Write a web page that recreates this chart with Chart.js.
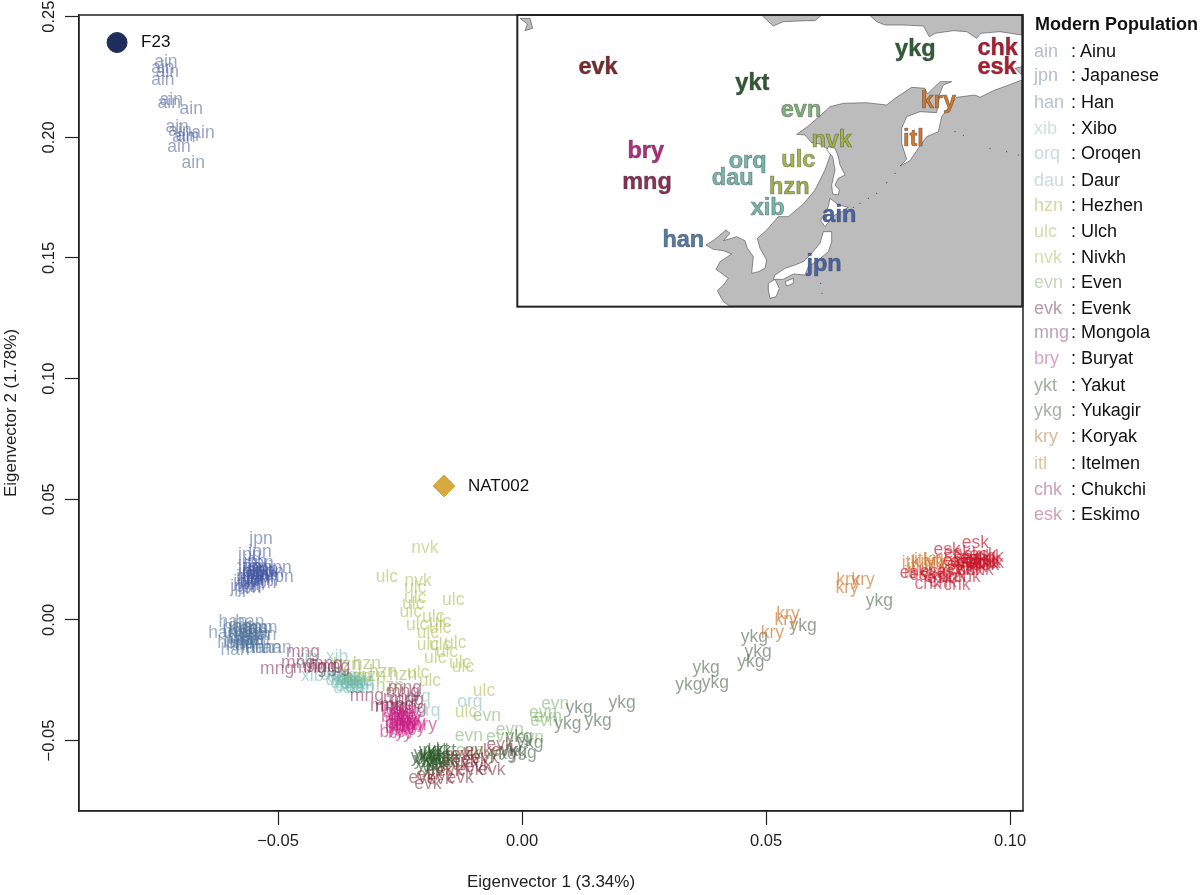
<!DOCTYPE html>
<html>
<head>
<meta charset="utf-8">
<title>Eigenvector plot</title>
<script src="https://cdn.jsdelivr.net/npm/chart.js@4"></script>
<style>
  html, body { margin: 0; padding: 0; background: #fff; }
  #wrap { position: relative; width: 1200px; height: 895px; overflow: hidden; }
  canvas { position: absolute; left: 0; top: 0; }
  .row { position: absolute; font: 18px "Liberation Sans", Arial, sans-serif; line-height: 20px; color: #111; white-space: nowrap; }
  .row span { position: absolute; top: 0; }
  .head { font-weight: bold; left: 1035px; top: 14px; }
</style>
</head>
<body>
<div id="wrap"><canvas id="pca" width="1200" height="895"></canvas></div>
<script>
// ---- tick labels
const xTicks = [-0.05, 0, 0.05, 0.1];
const xTickLabels = ['\u22120.05', '0.00', '0.05', '0.10'];
const yTicks = [-0.05, 0, 0.05, 0.1, 0.15, 0.2, 0.25];
const yTickLabels = ['\u22120.05', '0.00', '0.05', '0.10', '0.15', '0.20', '0.25'];

// ---- populations, legend order
const popCodes = ['ain','jpn','han','xib','orq','dau','hzn','ulc','nvk','evn','evk','mng','bry','ykt','ykg','kry','itl','chk','esk'];
const popNames = ['Ainu','Japanese','Han','Xibo','Oroqen','Daur','Hezhen','Ulch','Nivkh','Even','Evenk','Mongola','Buryat','Yakut','Yukagir','Koryak','Itelmen','Chukchi','Eskimo'];

// ---- eigenvector 1 / eigenvector 2
const ain = [[-0.0730,0.2312],[-0.0736,0.2288],[-0.0727,0.2271],[-0.0736,0.2238],[-0.0719,0.2155],[-0.0723,0.2143],[-0.0678,0.2118],[-0.0707,0.2043],[-0.0701,0.2027],[-0.0654,0.2018],[-0.0693,0.2002],[-0.0686,0.2006],[-0.0703,0.1960],[-0.0674,0.1894]];
const jpn = [[-0.0535,0.0335],[-0.0537,0.0282],[-0.0558,0.0269],[-0.0547,0.0240],[-0.0533,0.0236],[-0.0558,0.0219],[-0.0537,0.0215],[-0.0496,0.0215],[-0.0558,0.0199],[-0.0523,0.0207],[-0.0492,0.0178],[-0.0543,0.0186],[-0.0562,0.0178],[-0.0521,0.0178],[-0.0574,0.0137],[-0.0551,0.0145],[-0.0527,0.0153],[-0.0558,0.0132],[-0.0541,0.0166],[-0.0512,0.0199],[-0.0568,0.0157],[-0.0533,0.0190],[-0.0549,0.0207],[-0.0550,0.0190],[-0.0540,0.0175],[-0.0530,0.0200],[-0.0545,0.0220],[-0.0525,0.0185],[-0.0555,0.0165]];
const han = [[-0.0592,-0.0008],[-0.0558,-0.0008],[-0.0541,-0.0033],[-0.0613,-0.0054],[-0.0531,-0.0033],[-0.0584,-0.0050],[-0.0568,-0.0070],[-0.0582,-0.0083],[-0.0547,-0.0083],[-0.0588,-0.0124],[-0.0558,-0.0116],[-0.0537,-0.0116],[-0.0502,-0.0116],[-0.0584,-0.0029],[-0.0564,-0.0029],[-0.0572,-0.0050],[-0.0551,-0.0054],[-0.0533,-0.0062],[-0.0578,-0.0104],[-0.0595,-0.0095],[-0.0558,-0.0095],[-0.0523,-0.0116],[-0.0570,-0.0040],[-0.0560,-0.0060],[-0.0550,-0.0040],[-0.0575,-0.0075],[-0.0560,-0.0085],[-0.0545,-0.0065],[-0.0570,-0.0100]];
const xib = [[-0.0379,-0.0153],[-0.0441,-0.0157],[-0.0430,-0.0232],[-0.0394,-0.0215],[-0.0363,-0.0248],[-0.0342,-0.0261]];
const orq = [[-0.0107,-0.0339],[-0.0193,-0.0377],[-0.0213,-0.0319],[-0.0349,-0.0240],[-0.0328,-0.0253],[-0.0363,-0.0232]];
const dau = [[-0.0373,-0.0248],[-0.0363,-0.0261],[-0.0353,-0.0273],[-0.0342,-0.0265],[-0.0369,-0.0236],[-0.0349,-0.0248],[-0.0357,-0.0282],[-0.0332,-0.0282],[-0.0383,-0.0228],[-0.0336,-0.0253]];
const hzn = [[-0.0318,-0.0182],[-0.0359,-0.0186],[-0.0244,-0.0228],[-0.0285,-0.0215],[-0.0271,-0.0273],[-0.0338,-0.0236],[-0.0308,-0.0232]];
const ulc = [[-0.0277,0.0178],[-0.0219,0.0132],[-0.0219,0.0091],[-0.0223,0.0066],[-0.0141,0.0083],[-0.0228,0.0033],[-0.0182,0.0012],[-0.0215,-0.0021],[-0.0168,-0.0008],[-0.0193,-0.0054],[-0.0168,-0.0033],[-0.0193,-0.0104],[-0.0168,-0.0104],[-0.0137,-0.0095],[-0.0154,-0.0132],[-0.0178,-0.0157],[-0.0127,-0.0178],[-0.0121,-0.0195],[-0.0213,-0.0219],[-0.0189,-0.0253],[-0.0078,-0.0294],[-0.0115,-0.0381]];
const nvk = [[-0.0199,0.0298],[-0.0213,0.0161]];
const evn = [[0.0068,-0.0348],[0.0043,-0.0385],[0.0045,-0.0418],[0.0053,-0.0402],[-0.0072,-0.0397],[-0.0109,-0.0480],[-0.0025,-0.0459],[-0.0045,-0.0484],[0.0016,-0.0489],[-0.0070,-0.0555],[-0.0107,-0.0546]];
const evk = [[-0.0158,-0.0580],[-0.0137,-0.0600],[-0.0117,-0.0588],[-0.0168,-0.0621],[-0.0148,-0.0629],[-0.0107,-0.0621],[-0.0189,-0.0642],[-0.0131,-0.0559],[-0.0090,-0.0609],[-0.0117,-0.0559],[-0.0168,-0.0662],[-0.0193,-0.0679],[-0.0205,-0.0654],[-0.0127,-0.0654],[-0.0062,-0.0621],[-0.0090,-0.0546],[-0.0045,-0.0518],[-0.0035,-0.0546],[-0.0096,-0.0580],[-0.0076,-0.0571]];
const mng = [[-0.0449,-0.0132],[-0.0502,-0.0203],[-0.0459,-0.0178],[-0.0435,-0.0199],[-0.0414,-0.0195],[-0.0387,-0.0195],[-0.0402,-0.0182],[-0.0318,-0.0315],[-0.0244,-0.0298],[-0.0236,-0.0331],[-0.0277,-0.0356],[-0.0230,-0.0364],[-0.0256,-0.0352],[-0.0250,-0.0323],[-0.0267,-0.0360],[-0.0240,-0.0282]];
const bry = [[-0.0264,-0.0402],[-0.0250,-0.0393],[-0.0234,-0.0414],[-0.0256,-0.0426],[-0.0240,-0.0435],[-0.0223,-0.0426],[-0.0199,-0.0435],[-0.0267,-0.0464],[-0.0244,-0.0455],[-0.0223,-0.0447],[-0.0246,-0.0414],[-0.0234,-0.0385],[-0.0256,-0.0447],[-0.0250,-0.0468],[-0.0230,-0.0402],[-0.0242,-0.0373],[-0.0260,-0.0381],[-0.0245,-0.0400],[-0.0250,-0.0430],[-0.0240,-0.0420],[-0.0235,-0.0440],[-0.0248,-0.0442]];
const ykt = [[-0.0189,-0.0546],[-0.0158,-0.0546],[-0.0199,-0.0580],[-0.0178,-0.0571],[-0.0193,-0.0600],[-0.0168,-0.0588],[-0.0205,-0.0567],[-0.0152,-0.0580],[-0.0182,-0.0613],[-0.0172,-0.0538],[-0.0199,-0.0555],[-0.0185,-0.0575],[-0.0175,-0.0590],[-0.0190,-0.0560],[-0.0170,-0.0565]];
const ykg = [[0.0205,-0.0344],[0.0117,-0.0364],[0.0094,-0.0431],[0.0156,-0.0418],[-0.0006,-0.0484],[0.0016,-0.0509],[-0.0039,-0.0555],[0.0002,-0.0551],[-0.0018,-0.0546],[0.0377,-0.0199],[0.0342,-0.0269],[0.0396,-0.0261],[0.0476,-0.0070],[0.0484,-0.0132],[0.0469,-0.0174],[0.0576,-0.0025],[0.0732,0.0079]];
const kry = [[0.0545,0.0025],[0.0541,0.0],[0.0513,-0.0054],[0.0668,0.0166],[0.0699,0.0166],[0.0666,0.0132],[0.0822,0.0240],[0.0871,0.0236],[0.0883,0.0215],[0.0847,0.0248],[0.0908,0.0240]];
const itl = [[0.0791,0.0236],[0.0802,0.0219],[0.0816,0.0248],[0.0836,0.0228],[0.0851,0.0240],[0.0795,0.0195],[0.0830,0.0207]];
const chk = [[0.0832,0.0149],[0.0891,0.0145],[0.0863,0.0157],[0.0912,0.0178],[0.0953,0.0236],[0.0918,0.0207],[0.0883,0.0178],[0.0959,0.0261],[0.0939,0.0207],[0.0851,0.0178],[0.0925,0.0220],[0.0945,0.0240],[0.0900,0.0205],[0.0960,0.0235]];
const esk = [[0.0929,0.0319],[0.0871,0.0290],[0.0892,0.0277],[0.0802,0.0195],[0.0843,0.0199],[0.0912,0.0269],[0.0933,0.0257],[0.0898,0.0228],[0.0945,0.0269],[0.0877,0.0199],[0.0857,0.0174],[0.0918,0.0236],[0.0953,0.0248],[0.0822,0.0186],[0.0925,0.0250],[0.0940,0.0230],[0.0905,0.0240],[0.0950,0.0225],[0.0890,0.0245]];
const popValues = [ain, jpn, han, xib, orq, dau, hzn, ulc, nvk, evn, evk, mng, bry, ykt, ykg, kry, itl, chk, esk];

// ---- the two ancient samples
const f23 = [[-0.0830, 0.2393]];
const nat002 = [[-0.0160, 0.0555]];

// ---- inset map, in map units (hidden mapX / mapY scales)
const insetCodes = ['evk','ykt','ykg','chk','esk','evn','nvk','kry','itl','bry','orq','ulc','dau','hzn','mng','xib','ain','han','jpn'];
const insetX = [264,727,1216,1463,1461,873,965,1285,1210,407,713,865,668,838,411,773,988,520,942];
const insetY = [204,250,150,145,203,333,422,305,420,455,485,482,535,562,548,625,648,723,793];
const seaOutline = [[660,918],[640,905],[622,872],[640,855],[655,835],[618,808],[630,785],[665,762],[640,752],[610,748],[588,735],[612,720],[648,690],[660,700],[640,722],[680,710],[705,722],[712,745],[730,770],[725,820],[745,815],[765,805],[770,780],[750,745],[742,715],[770,690],[805,650],[835,650],[880,612],[915,570],[945,510],[962,462],[950,445],[930,432],[905,428],[885,405],[860,403],[890,382],[925,352],[960,320],[1000,310],[1070,308],[1130,315],[1155,295],[1205,262],[1245,265],[1252,282],[1290,245],[1325,245],[1300,255],[1288,285],[1280,338],[1230,335],[1190,350],[1175,385],[1175,430],[1190,478],[1170,498],[1200,482],[1225,445],[1250,410],[1285,395],[1295,350],[1340,292],[1395,285],[1410,292],[1450,272],[1510,250],[1535,240],[1535,918]];
const arcticWest = [[755,45],[770,60],[790,78],[820,65],[890,62],[915,62],[935,45]];
const arcticEast = [[1078,45],[1100,65],[1125,75],[1180,75],[1240,78],[1258,110],[1275,100],[1330,92],[1370,95],[1400,115],[1412,100],[1470,95],[1535,105],[1535,45]];
const taimyrBlob = [[30,55],[60,55],[68,85],[45,92],[52,72]];
const beringBit = [[1515,205],[1535,200],[1535,225]];
const sakhalin = [[955,440],[975,445],[985,470],[990,495],[1005,525],[985,535],[975,555],[988,570],[985,585],[968,582],[965,555],[975,510],[968,470],[950,450]];
const hokkaido = [[960,595],[985,615],[1015,622],[995,635],[975,645],[960,660],[945,680],[932,662],[945,640],[955,620]];
const honshu = [[940,695],[965,695],[965,725],[955,755],[925,780],[895,800],[885,825],[850,822],[820,838],[790,838],[795,825],[825,805],[855,795],[880,785],[905,760],[930,730]];
const shikoku = [[825,845],[850,835],[850,850],[830,858]];
const kyushu = [[775,850],[795,838],[808,865],[798,890],[780,895],[775,870]];
const kurilDots = [[1155,520],[1130,548],[1100,580],[1075,595],[1050,610],[1030,622],[1335,395],[1360,406],[1440,445],[1490,455],[1525,465],[932,850],[936,880]];

// ---- styles
const popColors = {
  ain:'rgba(70,90,150,.55)', jpn:'rgba(65,85,160,.55)', han:'rgba(80,115,155,.55)', xib:'rgba(110,185,170,.55)',
  orq:'rgba(120,185,175,.55)', dau:'rgba(110,185,175,.55)', hzn:'rgba(150,175,70,.55)', ulc:'rgba(165,185,70,.55)',
  nvk:'rgba(170,190,80,.55)', evn:'rgba(120,175,100,.55)', evk:'rgba(125,40,50,.55)', mng:'rgba(130,40,80,.55)',
  bry:'rgba(200,30,130,.6)', ykt:'rgba(45,90,45,.65)', ykg:'rgba(60,85,60,.55)', kry:'rgba(205,115,45,.65)',
  itl:'rgba(205,120,50,.65)', chk:'rgba(190,30,55,.6)', esk:'rgba(200,20,40,.65)'
};
const insetColors = {
  evk:'#7a2a2e', ykt:'#2f5a2f', ykg:'#2f6035', chk:'#b5192e', esk:'#b5192e', evn:'#7fb27a', nvk:'#a3b545', kry:'#d0762d', itl:'#d0762d',
  bry:'#b52a7e', orq:'#76b7ad', ulc:'#a5b84a', dau:'#76b7ad', hzn:'#a0b04a', mng:'#8c2e57', xib:'#76b7ad', ain:'#4a63a8', han:'#557ba5', jpn:'#4a63a8'
};
const legendTextColors = {
  ain:'#b4bccd', jpn:'#b4bccd', han:'#b8c3cf', xib:'#cfe1de', orq:'#c9dcd9', dau:'#c9dcd9', hzn:'#d2d8a8', ulc:'#d5dcae', nvk:'#d5dcae',
  evn:'#c5d6bd', evk:'#b89aa3', mng:'#c0a0b4', bry:'#d9a2c9', ykt:'#a0aea0', ykg:'#a6b4a6', kry:'#d9bc9c', itl:'#dcc6a4', chk:'#d09fb0', esk:'#d4a0b2'
};
const legendRowY = [41,65,92,118,143,170,195,221,247,272,298,322,348,375,400,426,453,479,504];
const FONT = '"Liberation Sans", Arial, sans-serif';

const toXY = rows => rows.map(r => ({ x: r[0], y: r[1] }));

const datasets = popCodes.map((code, i) => ({
  label: code,
  data: toXY(popValues[i]),
  pointRadius: 0,
  textLabel: code,
  textColor: popColors[code]
}));
datasets.push({
  label: 'inset',
  xAxisID: 'mapX',
  yAxisID: 'mapY',
  data: insetX.map((x, i) => ({ x: x, y: insetY[i] })),
  pointRadius: 0,
  insetText: true
});
datasets.push({ label: 'F23', data: toXY(f23), pointStyle: 'circle', pointRadius: 10, backgroundColor: '#1f2d5c', borderColor: '#1f2d5c', sampleName: 'F23' });
datasets.push({ label: 'NAT002', data: toXY(nat002), pointStyle: 'rectRot', pointRadius: 11, backgroundColor: '#d9a93f', borderColor: '#d9a93f', sampleName: 'NAT002' });

const tracePoly = (chart, rows) => {
  const c = chart.ctx, mx = chart.scales.mapX, my = chart.scales.mapY;
  c.beginPath();
  rows.forEach((p, i) => {
    const px = mx.getPixelForValue(p[0]), py = my.getPixelForValue(p[1]);
    if (i === 0) c.moveTo(px, py); else c.lineTo(px, py);
  });
  c.closePath();
};

const insetMap = {
  id: 'insetMap',
  beforeDatasetsDraw(chart) {
    const c = chart.ctx, mx = chart.scales.mapX, my = chart.scales.mapY;
    c.save();
    c.fillStyle = '#bcbcbc';
    c.strokeStyle = '#4a4a4a';
    c.lineWidth = 0.6;
    [seaOutline, arcticWest, arcticEast, taimyrBlob, beringBit].forEach(poly => {
      tracePoly(chart, poly);
      c.fill();
      c.stroke();
    });
    c.fillStyle = '#fff';
    [sakhalin, hokkaido, honshu, shikoku, kyushu].forEach(poly => {
      tracePoly(chart, poly);
      c.fill();
      c.stroke();
    });
    c.fillStyle = '#444';
    kurilDots.forEach(p => {
      c.beginPath();
      c.arc(mx.getPixelForValue(p[0]), my.getPixelForValue(p[1]), 0.6, 0, Math.PI * 2);
      c.fill();
    });
    c.restore();
  }
};

const textLabels = {
  id: 'textLabels',
  afterDatasetsDraw(chart) {
    const c = chart.ctx;
    c.save();
    c.textBaseline = 'middle';
    chart.data.datasets.forEach((ds, i) => {
      const pts = chart.getDatasetMeta(i).data;
      if (ds.textLabel) {
        c.textAlign = 'center';
        c.font = '17.5px ' + FONT;
        c.fillStyle = ds.textColor;
        pts.forEach(p => c.fillText(ds.textLabel, p.x, p.y));
      } else if (ds.insetText) {
        c.textAlign = 'center';
        c.font = 'bold 23.5px ' + FONT;
        c.lineWidth = 0.7;
        c.strokeStyle = 'rgba(50,50,50,.5)';
        pts.forEach((p, k) => {
          c.fillStyle = insetColors[insetCodes[k]];
          c.fillText(insetCodes[k], p.x, p.y);
          c.strokeText(insetCodes[k], p.x, p.y);
        });
      } else if (ds.sampleName) {
        c.textAlign = 'left';
        c.font = '17px ' + FONT;
        c.fillStyle = '#111';
        pts.forEach(p => c.fillText(ds.sampleName, p.x + 24, p.y));
      }
    });
    // plot box and inset frame
    const a = chart.chartArea, mx = chart.scales.mapX, my = chart.scales.mapY;
    c.strokeStyle = '#222';
    c.lineWidth = 1.5;
    c.strokeRect(a.left, a.top, a.right - a.left, a.bottom - a.top);
    c.lineWidth = 2;
    c.strokeRect(mx.getPixelForValue(22), my.getPixelForValue(45), mx.getPixelForValue(1537) - mx.getPixelForValue(22), my.getPixelForValue(920) - my.getPixelForValue(45));
    c.restore();
  }
};

new Chart(document.getElementById('pca'), {
  type: 'scatter',
  data: { datasets: datasets },
  options: {
    responsive: false,
    animation: false,
    events: [],
    layout: { padding: { top: 15, right: 177, left: 0, bottom: 0 } },
    plugins: { legend: { display: false }, tooltip: { enabled: false } },
    scales: {
      x: {
        type: 'linear',
        min: -0.0908,
        max: 0.10266,
        afterFit(s) { s.height = 84; },
        afterBuildTicks(s) { s.ticks = xTicks.map(v => ({ value: v })); },
        grid: { drawOnChartArea: false, tickLength: 14, tickColor: '#222', tickWidth: 1.2 },
        border: { color: '#222', width: 1.2 },
        ticks: {
          padding: 7,
          maxRotation: 0,
          color: '#222',
          font: { family: FONT, size: 16.5 },
          callback: (v, i) => xTickLabels[i]
        },
        title: { display: true, text: 'Eigenvector 1 (3.34%)', color: '#222', font: { family: FONT, size: 17 }, padding: { top: 0, bottom: 2 } }
      },
      y: {
        type: 'linear',
        min: -0.0792,
        max: 0.2507,
        afterFit(s) { s.width = 79; },
        afterBuildTicks(s) { s.ticks = yTicks.map(v => ({ value: v })); },
        grid: { drawOnChartArea: false, tickLength: 14, tickColor: '#222', tickWidth: 1.2 },
        border: { color: '#222', width: 1.2 },
        ticks: {
          padding: -5,
          minRotation: 90,
          maxRotation: 90,
          crossAlign: 'center',
          color: '#222',
          font: { family: FONT, size: 16.5 },
          callback: (v, i) => yTickLabels[i]
        },
        title: { display: true, text: 'Eigenvector 2 (1.78%)', color: '#222', font: { family: FONT, size: 17 }, padding: { top: 1, bottom: 0 } }
      },
      mapX: { type: 'linear', display: false, min: -1293, max: 1539 },
      mapY: { type: 'linear', display: false, reverse: true, min: 45, max: 2433 }
    }
  },
  plugins: [insetMap, textLabels]
});

// legend on the right of the plot
const wrap = document.getElementById('wrap');
const head = document.createElement('div');
head.className = 'row head';
head.textContent = 'Modern Population';
wrap.appendChild(head);
popCodes.forEach((code, i) => {
  const row = document.createElement('div');
  row.className = 'row';
  row.style.left = '0';
  row.style.top = legendRowY[i] + 'px';
  row.innerHTML = '<span style="left:1034px;color:' + legendTextColors[code] + '">' + code + '</span>' +
    '<span style="left:1071px">: ' + popNames[i] + '</span>';
  wrap.appendChild(row);
});
</script>
</body>
</html>
